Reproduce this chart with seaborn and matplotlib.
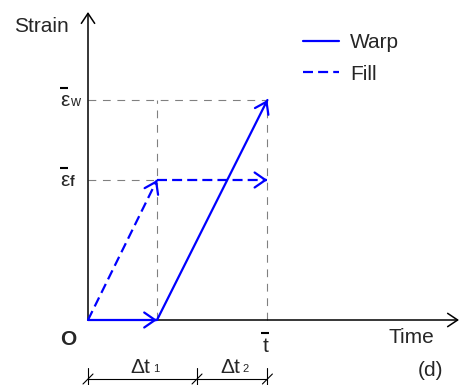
import numpy as np
import pandas as pd
import matplotlib
matplotlib.use("Agg")
import matplotlib.pyplot as plt
from matplotlib.lines import Line2D
from matplotlib.transforms import ScaledTranslation
import seaborn as sns

# Strain-time loading paths (time in units of the first interval)
dt1 = 1.0
dt2 = 1.6
t_bar = dt1 + dt2
eps_f = 1.4
eps_w = 2.2

series_names = ["Warp", "Fill"]
warp_t = [0.0, dt1, t_bar]
warp_eps = [0.0, 0.0, eps_w]
fill_t = [0.0, dt1, t_bar]
fill_eps = [0.0, eps_f, eps_f]

# positions of the marks on the interval dimension line
dim_marks = [0.0, 1.58, t_bar]

sns.set_theme(style="white")
plt.rcParams["font.family"] = ["Liberation Sans", "DejaVu Sans"]

W, H = 461, 385
ox, oy = 88, 320          # origin in pixels
sx, sy = 69.0, 100.0      # pixels per data unit

fig = plt.figure(figsize=(W / 100, H / 100), dpi=100)
ax = fig.add_axes([0, 0, 1, 1])
ax.set_xlim(-ox / sx, (W - ox) / sx)
ax.set_ylim(-(H - oy) / sy, oy / sy)
ax.axis("off")


def px(x, y):
    return x / W, 1 - y / H


def shifted(dx, dy):
    """data transform moved by (dx, dy) pixels"""
    return ax.transData + ScaledTranslation(dx / 100, dy / 100, fig.dpi_scale_trans)


BLUE = "#0000ff"
GRAY = "#808080"
LW = 1.6
fs = 15

# build segment table
rows = []
for name, ts, es in (("Warp", warp_t, warp_eps), ("Fill", fill_t, fill_eps)):
    for i in range(len(ts) - 1):
        seg = f"{name}{i}"
        rows.append(dict(series=name, segment=seg, time=ts[i], strain=es[i]))
        rows.append(dict(series=name, segment=seg, time=ts[i + 1], strain=es[i + 1]))
df = pd.DataFrame(rows)

# gray guide lines
gkw = dict(color=GRAY, lw=0.8, dashes=(7, 6), zorder=1)
ax.plot([0, t_bar], [eps_w, eps_w], **gkw)
ax.plot([0, dt1], [eps_f, eps_f], **gkw)
ax.plot([dt1, dt1], [0, eps_w], **gkw)
ax.plot([t_bar, t_bar], [0, eps_w], **gkw)

# coordinate axes with open arrowheads
akw = dict(arrowstyle="->,head_length=0.6,head_width=0.4", lw=1.1,
           color="black", shrinkA=0, shrinkB=0, mutation_scale=12)
ax.annotate("", xy=(0, (oy - 12) / sy), xytext=(0, 0), arrowprops=akw, zorder=2)
ax.annotate("", xy=((W - 2 - ox) / sx, 0), xytext=(0, 0), arrowprops=akw, zorder=2)

# loading paths
sns.lineplot(data=df, x="time", y="strain", units="segment", estimator=None,
             style="series", style_order=series_names,
             dashes={"Warp": "", "Fill": (4.5, 2.3)}, color=BLUE, lw=LW,
             sort=False, legend=False, ax=ax, zorder=3)

# arrowheads at the end of every segment
hkw = dict(arrowstyle="->,head_length=0.65,head_width=0.45", lw=LW,
           color=BLUE, shrinkA=0, shrinkB=0, mutation_scale=12)
for ts, es in ((warp_t, warp_eps), (fill_t, fill_eps)):
    for i in range(len(ts) - 1):
        x0, y0, x1, y1 = ts[i], es[i], ts[i + 1], es[i + 1]
        ax.annotate("", xy=(x1, y1),
                    xytext=(x1 - 0.02 * (x1 - x0), y1 - 0.02 * (y1 - y0)),
                    arrowprops=hkw, zorder=4)

ax.set_xlabel("")
ax.set_ylabel("")

# legend
handles = [Line2D([], [], color=BLUE, lw=LW),
           Line2D([], [], color=BLUE, lw=LW, dashes=(4.5, 2.3))]
ax.legend(handles, series_names, loc="upper left", bbox_to_anchor=px(303, 33),
          bbox_transform=fig.transFigure, frameon=False, fontsize=fs,
          handlelength=1.75, handletextpad=0.5, labelspacing=0.6,
          borderpad=0, borderaxespad=0)

# axis labels
ax.text(*px(14, 32), "Strain", transform=fig.transFigure, fontsize=fs,
        ha="left", va="baseline")
ax.text(*px(388, 343), "Time", transform=fig.transFigure, fontsize=fs,
        ha="left", va="baseline")
ax.text(0, 0, "O", transform=shifted(-20, -25), fontsize=fs,
        fontweight="bold", ha="center", va="baseline")

# barred symbols: glyph, small subscript and overbar placed around the value
bar_kw = dict(marker="_", color="black", ms=5.5, mew=1.5, ls="none")
ax.text(t_bar, 0, "t", transform=shifted(-2, -32), fontsize=fs,
        ha="center", va="baseline")
ax.plot([t_bar], [0], transform=shifted(-2, -13), **bar_kw)

for val, sub, weight in ((eps_w, "w", "normal"), (eps_f, "f", "bold")):
    ax.text(0, val, "ε", transform=shifted(-23.5, -6), fontsize=fs,
            ha="center", va="baseline")
    ax.text(0, val, sub, transform=shifted(-18, -6), fontsize=10,
            fontweight=weight, ha="left", va="baseline")
    ax.plot([0], [val], transform=shifted(-24, 12), **bar_kw)

# interval dimension line
ydim = -(379 - oy) / sy
ax.plot([dim_marks[0], dim_marks[-1]], [ydim, ydim], color="black", lw=0.8)
for m in dim_marks:
    ax.plot([m, m], [ydim + 11 / sy, ydim - 8 / sy], color="black", lw=0.8)
    ax.plot([m - 5 / sx, m + 5 / sx], [ydim - 5 / sy, ydim + 5 / sy],
            color="black", lw=0.8)

ax.text(*px(140, 373), "Δt", transform=fig.transFigure, fontsize=fs,
        ha="center", va="baseline")
ax.text(*px(156, 372), "1", transform=fig.transFigure, fontsize=8,
        ha="center", va="baseline")
ax.text(*px(230, 373), "Δt", transform=fig.transFigure, fontsize=fs,
        ha="center", va="baseline")
ax.text(*px(246, 372), "2", transform=fig.transFigure, fontsize=8,
        ha="center", va="baseline")
ax.text(*px(430, 376), "(d)", transform=fig.transFigure, fontsize=fs,
        ha="center", va="baseline")

fig.savefig("out.png", dpi=100)
